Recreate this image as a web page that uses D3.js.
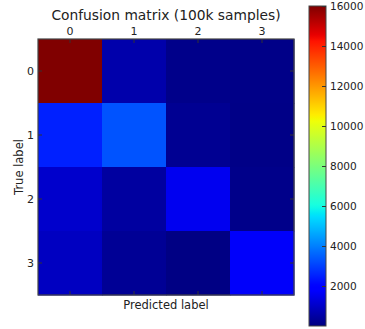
<!DOCTYPE html>
<html>
<head>
<meta charset="utf-8">
<script src="https://cdn.jsdelivr.net/npm/d3@7"></script>
<style>
  body { margin: 0; background: #fff; }
  svg text { font-family: "DejaVu Sans", sans-serif; fill: #222; }
</style>
</head>
<body>
<svg id="chart" width="365" height="329"></svg>
<script>
// labels for both axes
const classes = ['0', '1', '2', '3'];
// confusion counts, rows = true label, cols = predicted label
const row0 = [16000, 600, 150, 120];
const row1 = [2500, 3300, 250, 100];
const row2 = [1050, 450, 1550, 150];
const row3 = [900, 300, 60, 1700];
const colorTicks = [2000, 4000, 6000, 8000, 10000, 12000, 14000, 16000];
const vmax = 16000;

const matrix = [row0, row1, row2, row3];

// matplotlib "jet"
function jet(t) {
  t = Math.max(0, Math.min(1, t));
  const seg = (pts) => {
    for (let i = 1; i < pts.length; i++) {
      if (t <= pts[i][0]) {
        const [x0, y0] = pts[i - 1], [x1, y1] = pts[i];
        return y0 + (y1 - y0) * (t - x0) / (x1 - x0);
      }
    }
    return pts[pts.length - 1][1];
  };
  const r = seg([[0, 0], [0.35, 0], [0.66, 1], [0.89, 1], [1, 0.5]]);
  const g = seg([[0, 0], [0.125, 0], [0.375, 1], [0.64, 1], [0.91, 0], [1, 0]]);
  const b = seg([[0, 0.5], [0.11, 1], [0.34, 1], [0.65, 0], [1, 0]]);
  return d3.rgb(r * 255, g * 255, b * 255).toString();
}

const svg = d3.select('#chart');
const mLeft = 38, mTop = 39, size = 256;

const x = d3.scaleBand().domain(classes).range([mLeft, mLeft + size]);
const y = d3.scaleBand().domain(classes).range([mTop, mTop + size]);
const color = d3.scaleSequential(jet).domain([0, vmax]);

const cells = [];
matrix.forEach((row, i) => row.forEach((v, j) => cells.push({ r: classes[i], c: classes[j], v })));

svg.append('g').selectAll('rect')
  .data(cells)
  .join('rect')
  .attr('x', d => x(d.c))
  .attr('y', d => y(d.r))
  .attr('width', x.bandwidth() + 0.5)
  .attr('height', y.bandwidth() + 0.5)
  .attr('fill', d => color(d.v));

// ticks on all four sides, pointing in
const tk = svg.append('g').attr('stroke', '#333').attr('stroke-width', 1);
classes.forEach(c => {
  const cx = x(c) + x.bandwidth() / 2, cy = y(c) + y.bandwidth() / 2;
  tk.append('line').attr('x1', cx).attr('x2', cx).attr('y1', mTop).attr('y2', mTop + 4);
  tk.append('line').attr('x1', cx).attr('x2', cx).attr('y1', mTop + size).attr('y2', mTop + size - 4);
  tk.append('line').attr('y1', cy).attr('y2', cy).attr('x1', mLeft).attr('x2', mLeft + 4);
  tk.append('line').attr('y1', cy).attr('y2', cy).attr('x1', mLeft + size).attr('x2', mLeft + size - 4);
});

svg.append('rect')
  .attr('x', mLeft).attr('y', mTop).attr('width', size).attr('height', size)
  .attr('fill', 'none').attr('stroke', '#444').attr('stroke-width', 1.2);

svg.append('g').selectAll('text')
  .data(classes)
  .join('text')
  .attr('x', d => x(d) + x.bandwidth() / 2)
  .attr('y', mTop - 4)
  .attr('text-anchor', 'middle')
  .attr('font-size', 11)
  .text(d => d);

svg.append('g').selectAll('text')
  .data(classes)
  .join('text')
  .attr('x', mLeft - 4)
  .attr('y', d => y(d) + y.bandwidth() / 2)
  .attr('dy', '0.35em')
  .attr('text-anchor', 'end')
  .attr('font-size', 11)
  .text(d => d);

svg.append('text')
  .attr('x', mLeft + size / 2).attr('y', 20)
  .attr('text-anchor', 'middle').attr('font-size', 13.8)
  .text('Confusion matrix (100k samples)');

svg.append('text')
  .attr('x', mLeft + size / 2).attr('y', mTop + size + 14)
  .attr('text-anchor', 'middle').attr('font-size', 11.5)
  .text('Predicted label');

svg.append('text')
  .attr('transform', `translate(${mLeft - 15},${mTop + size / 2}) rotate(-90)`)
  .attr('text-anchor', 'middle').attr('font-size', 11.5)
  .text('True label');

// colorbar
const cbX = 309, cbW = 17, cbTop = 6, cbBot = 326;
const cScale = d3.scaleLinear().domain([0, vmax]).range([cbBot, cbTop]);

const grad = svg.append('defs').append('linearGradient')
  .attr('id', 'jet').attr('x1', 0).attr('x2', 0).attr('y1', 1).attr('y2', 0);
d3.range(0, 1.0001, 0.01).forEach(t => {
  grad.append('stop').attr('offset', t).attr('stop-color', jet(t));
});

svg.append('rect')
  .attr('x', cbX).attr('y', cbTop).attr('width', cbW).attr('height', cbBot - cbTop)
  .attr('fill', 'url(#jet)').attr('stroke', '#444').attr('stroke-width', 1);

const cbAxis = svg.append('g')
  .attr('transform', `translate(${cbX + cbW},0)`)
  .call(d3.axisRight(cScale).tickValues(colorTicks).tickFormat(d3.format('d')).tickSize(-4).tickPadding(4));
cbAxis.select('.domain').remove();
cbAxis.selectAll('line').attr('stroke', '#333');
cbAxis.selectAll('text').attr('font-size', 10.5).attr('font-family', '"DejaVu Sans", sans-serif').attr('fill', '#222');
</script>
</body>
</html>
